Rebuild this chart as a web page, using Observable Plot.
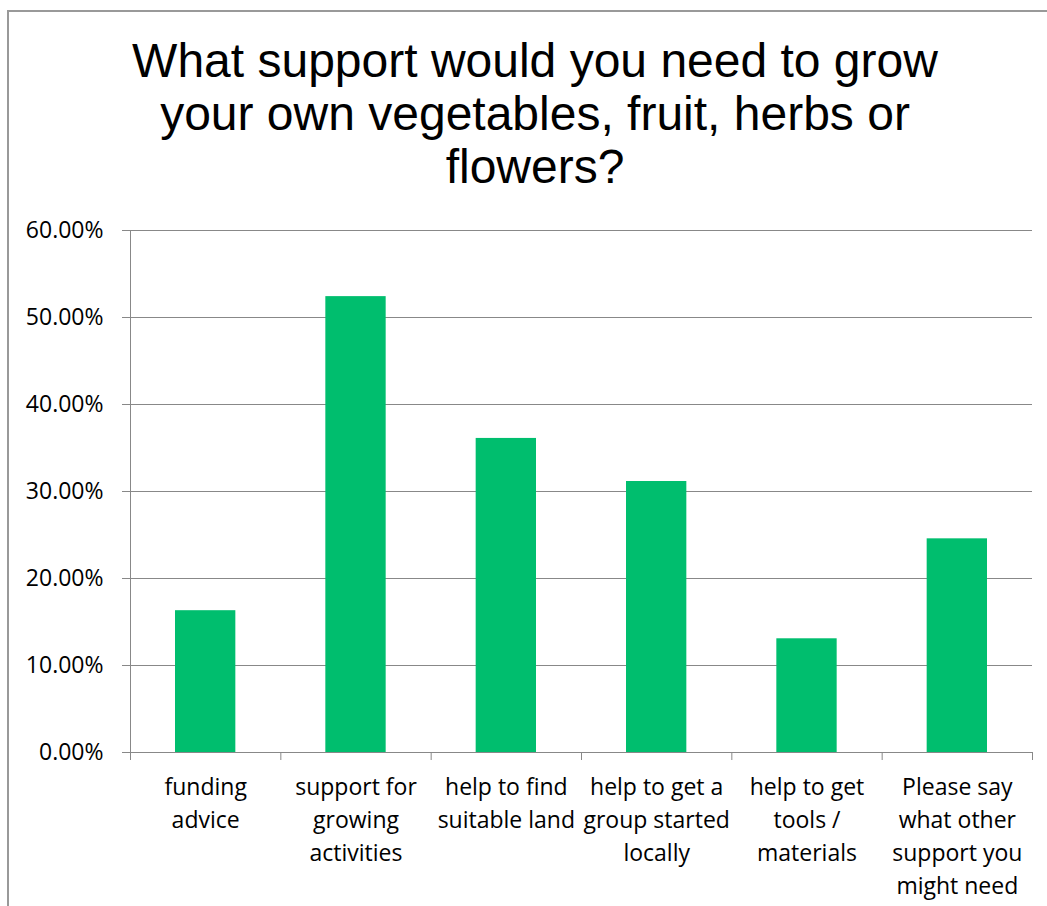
<!DOCTYPE html>
<html><head><meta charset="utf-8">
<script src="https://cdn.jsdelivr.net/npm/d3@7"></script>
<script src="https://cdn.jsdelivr.net/npm/@observablehq/plot@0.6"></script>
<style>
body{margin:0;background:#fff;overflow:hidden;}
#wrap{position:relative;width:1047px;height:906px;overflow:hidden;}
#frame{position:absolute;left:7px;top:10px;width:1100px;height:1000px;border-left:2px solid #999;border-top:2px solid #999;}
#title{position:absolute;left:0;top:34px;width:1070px;text-align:center;font-family:"Liberation Sans",Arial,sans-serif;font-size:48px;line-height:53px;color:#000;}
#chart{position:absolute;left:0;top:200px;}
</style></head>
<body><div id="wrap"><div id="frame"></div><div id="title">What support would you need to grow<br>your own vegetables, fruit, herbs or<br>flowers?</div><div id="chart"></div></div>
<script>
const categories = [
  "funding\nadvice",
  "support for\ngrowing\nactivities",
  "help to find\nsuitable land",
  "help to get a\ngroup started\nlocally",
  "help to get\ntools /\nmaterials",
  "Please say\nwhat other\nsupport you\nmight need"
];
const values = [0.163, 0.524, 0.361, 0.3115, 0.1307, 0.2456];
const yTicks = [0, 0.1, 0.2, 0.3, 0.4, 0.5, 0.6];

const data = categories.map((c, i) => ({i, c, v: values[i]}));
const boundaries = d3.range(categories.length + 1);
const centers = d3.range(categories.length).map(i => i + 0.5);

const plot = Plot.plot({
  width: 1047, height: 706,
  marginLeft: 130, marginRight: 15, marginTop: 30, marginBottom: 154,
  style: {fontFamily: '"Open Sans", sans-serif', fontSize: "23px", color: "#000", background: "transparent", overflow: "visible"},
  x: {domain: [0, categories.length], axis: null},
  y: {domain: [0, 0.6], axis: null},
  marks: [
    Plot.gridY(yTicks, {stroke: "#888", strokeOpacity: 1}),
    Plot.axisY(yTicks, {tickSize: 8, tickPadding: 19, tickFormat: d3.format(".2%"), stroke: "#888", fontSize: 23, label: null}),
    Plot.rectY(data, {x1: "i", x2: d => d.i + 1, y: "v", fill: "#00be6e", insetLeft: 45, insetRight: 45}),
    Plot.ruleX([0], {stroke: "#888"}),
    Plot.ruleY([0], {stroke: "#888"}),
    Plot.axisX(boundaries, {tickSize: 8, tickFormat: () => "", stroke: "#888", label: null}),
    Plot.axisX(centers, {tickSize: 0, tickPadding: 19, tickFormat: d => categories[d - 0.5], lineHeight: 1.43, fontSize: 23, label: null})
  ]
});
document.getElementById("chart").appendChild(plot);
</script>
</body></html>
